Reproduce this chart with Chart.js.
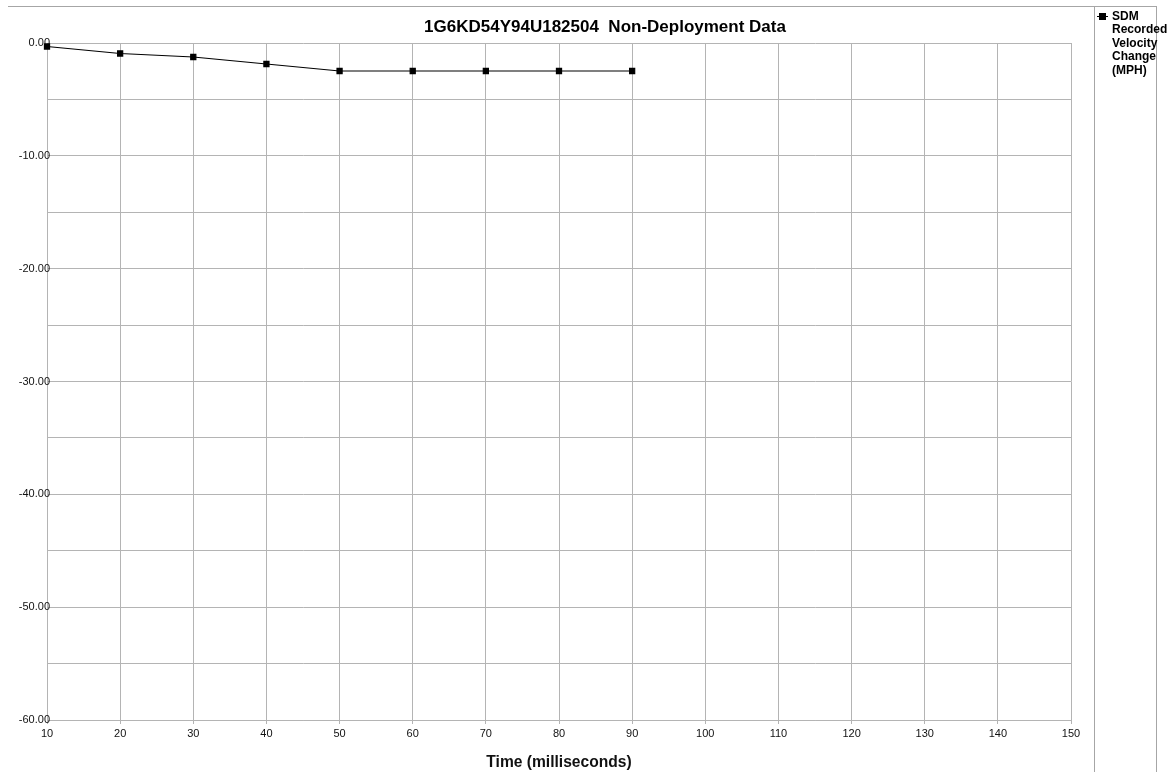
<!DOCTYPE html>
<html>
<head>
<meta charset="utf-8">
<script src="https://cdn.jsdelivr.net/npm/chart.js@4/dist/chart.umd.min.js"></script>
<style>
  html, body { margin: 0; padding: 0; background: #fff; }
  #wrap { position: relative; width: 1168px; height: 772px; overflow: hidden; font-family: "Liberation Sans", Arial, sans-serif; }
  canvas { position: absolute; left: 0; top: 0; }
  .frame { position: absolute; background: #a6a6a6; }
  #title { position: absolute; left: 405px; width: 400px; top: 17px; text-align: center; font-weight: bold; font-size: 17px; color: #000; white-space: pre; }
  #legend { position: absolute; left: 1112px; top: 10px; font-weight: bold; font-size: 12px; line-height: 13.4px; color: #000; white-space: nowrap; }
  #legmark { position: absolute; left: 1097px; top: 16px; width: 11px; height: 1px; background: #000; }
  #legsq { position: absolute; left: 1099px; top: 13px; width: 7px; height: 7px; background: #000; }
</style>
</head>
<body>
<div id="wrap">
  <canvas id="c" width="1168" height="772"></canvas>
  <div class="frame" style="left:8px; top:6px; width:1149px; height:1px;"></div>
  <div class="frame" style="left:1094px; top:6px; width:1px; height:766px;"></div>
  <div class="frame" style="left:1156px; top:6px; width:1px; height:766px;"></div>
  <div id="title"></div>
  <div id="legmark"></div><div id="legsq"></div>
  <div id="legend"></div>
</div>
<script>
const chartTitle = "1G6KD54Y94U182504  Non-Deployment Data";
const seriesName = ["SDM", "Recorded", "Velocity", "Change", "(MPH)"];
const xAxisTitle = "Time (milliseconds)";
const timeMs = [10, 20, 30, 40, 50, 60, 70, 80, 90];
const velocityChange = [-0.31, -0.93, -1.24, -1.86, -2.48, -2.48, -2.48, -2.48, -2.48];
const xMin = 10, xMax = 150, xStep = 10;
const yMin = -60, yMax = 0, yStep = 5, yLabelStep = 10;

document.getElementById('title').textContent = chartTitle;
document.getElementById('legend').innerHTML = seriesName.join('<br>');

const gridColor = '#b4b4b4';
new Chart(document.getElementById('c'), {
  type: 'line',
  data: {
    datasets: [{
      label: seriesName.join(' '),
      data: timeMs.map((t, i) => ({ x: t, y: velocityChange[i] })),
      borderColor: '#000',
      backgroundColor: '#000',
      borderWidth: 1.2,
      pointStyle: 'rect',
      pointRadius: 3.6,
      pointHoverRadius: 3.6,
      tension: 0,
      fill: false,
      clip: false
    }]
  },
  options: {
    responsive: false,
    animation: false,
    devicePixelRatio: 1,
    layout: { padding: { left: 8, right: 97, top: 43, bottom: 0 } },
    plugins: { legend: { display: false }, title: { display: false }, tooltip: { enabled: false } },
    scales: {
      x: {
        type: 'linear',
        min: xMin, max: xMax,
        grid: { color: gridColor, lineWidth: 1, tickLength: 4, drawTicks: true },
        border: { color: gridColor },
        ticks: { stepSize: xStep, padding: 3, color: '#111', font: { family: 'Liberation Sans', size: 11 }, maxRotation: 0 },
        title: { display: true, text: xAxisTitle, color: '#111', font: { family: 'Liberation Sans', size: 15.6, weight: 'bold' }, padding: { top: 4, bottom: 0 } },
        afterFit: s => { s.height = 52; }
      },
      y: {
        type: 'linear',
        min: yMin, max: yMax,
        grid: { color: gridColor, lineWidth: 1, drawTicks: false },
        border: { color: gridColor },
        ticks: {
          stepSize: yStep, padding: -3, color: '#111',
          font: { family: 'Liberation Sans', size: 11 },
          callback: v => (Math.abs(v % yLabelStep) < 1e-9 ? v.toFixed(2) : '')
        },
        afterFit: s => { s.width = 39; s._computeLabelArea = () => undefined; }
      }
    }
  }
});
</script>
</body>
</html>
